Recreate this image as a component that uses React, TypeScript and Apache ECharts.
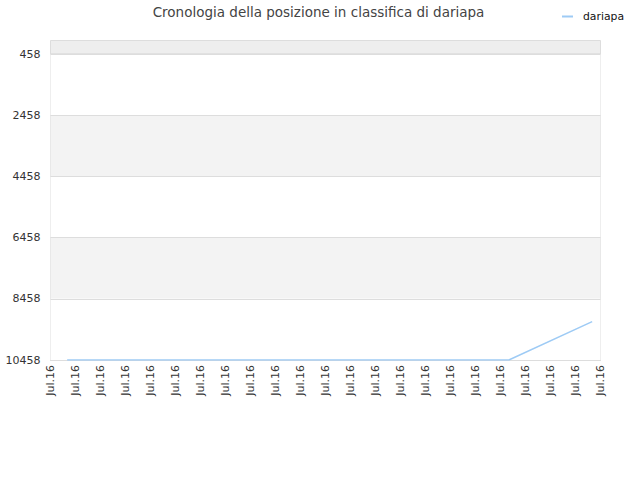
import React, { useEffect, useRef } from "react";
import * as echarts from "echarts";

const TITLE = "Cronologia della posizione in classifica di dariapa";
const SERIES_NAME = "dariapa";
const X_LABEL = "Jul.16";
const dayIndex = [2, 55, 65];
const rankValues = [10458, 10458, 9206];
const Y_MIN = 458;
const Y_MAX = 10458;
const Y_STEP = 2000;
const X_MAX = 66;
const X_STEP = 3;

export default function App() {
  const ref = useRef<HTMLDivElement>(null);
  useEffect(() => {
    document.body.style.margin = "0";
    const chart = echarts.init(ref.current!, null, { renderer: "svg" });
    const font = "DejaVu Sans";
    chart.setOption({
      animation: false,
      backgroundColor: "#ffffff",
      textStyle: { fontFamily: font },
      title: {
        text: TITLE,
        left: 313.5,
        textAlign: "center",
        top: 0,
        textStyle: { fontSize: 13.5, fontWeight: "normal", color: "#444", fontFamily: font },
      },
      legend: {
        right: 11,
        top: 6,
        itemWidth: 11,
        itemHeight: 2,
        icon: "rect",
        textStyle: { fontSize: 10.8, color: "#111", fontFamily: font, padding: [0, 0, 0, 5] },
        data: [SERIES_NAME],
      },
      graphic: [
        {
          type: "rect",
          shape: { x: 50.5, y: 40.5, width: 550, height: 13.5 },
          style: { fill: "#eeeeee", stroke: "#dddddd", lineWidth: 1 },
          z: -1,
        },
      ],
      grid: {
        left: 50.5,
        right: 39.5,
        top: 54,
        bottom: 120,
        show: true,
        borderColor: "#dddddd",
        borderWidth: 1,
        backgroundColor: "transparent",
      },
      xAxis: {
        type: "value",
        min: 0,
        max: X_MAX,
        interval: X_STEP,
        axisLine: { show: true, lineStyle: { color: "#dddddd" } },
        axisTick: { show: false },
        splitLine: { show: false },
        axisLabel: {
          rotate: 90,
          fontSize: 11,
          color: "#333",
          margin: 5,
          fontFamily: font,
          formatter: () => X_LABEL,
        },
      },
      yAxis: {
        type: "value",
        inverse: true,
        min: Y_MIN,
        max: Y_MAX,
        interval: Y_STEP,
        axisLine: { show: false },
        axisTick: { show: false },
        axisLabel: {
          fontSize: 11,
          color: "#333",
          margin: 10,
          fontFamily: font,
          formatter: (v: number) => String(v),
        },
        splitLine: { show: true, lineStyle: { color: "#dddddd" } },
        splitArea: { show: true, areaStyle: { color: ["#ffffff", "#f3f3f3"] } },
      },
      series: [
        {
          name: SERIES_NAME,
          type: "line",
          data: dayIndex.map((d, i) => [d, rankValues[i]]),
          showSymbol: false,
          symbol: "none",
          lineStyle: { color: "#9ecbf5", width: 1.5 },
          itemStyle: { color: "#9ecbf5" },
        },
      ],
    });
    return () => chart.dispose();
  }, []);
  return <div ref={ref} style={{ width: 640, height: 480 }} />;
}
